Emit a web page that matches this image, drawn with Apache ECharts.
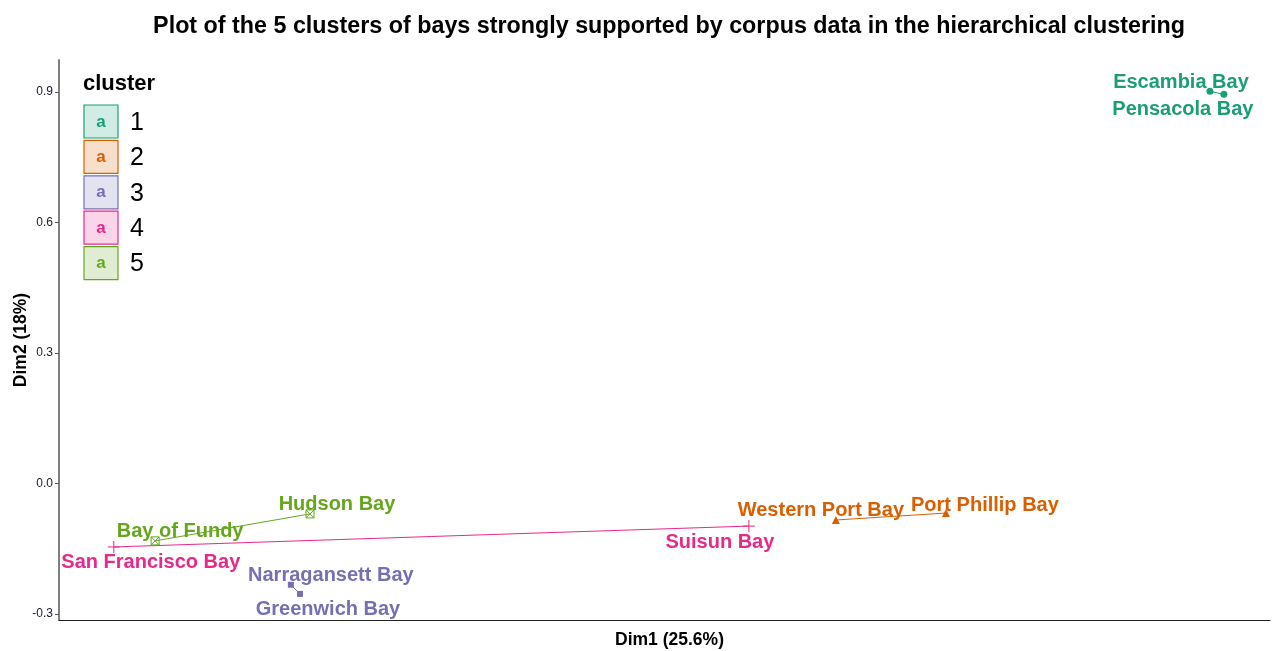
<!DOCTYPE html>
<html>
<head>
<meta charset="utf-8">
<script src="https://cdn.jsdelivr.net/npm/echarts@6/dist/echarts.min.js"></script>
<style>
html, body { margin: 0; padding: 0; background: #fff; }
#chart { width: 1278px; height: 651px; }
</style>
</head>
<body>
<div id="chart"></div>
<script>
// 数据
var clusters = ['1', '2', '3', '4', '5'];
var clusterColors = ['#1B9E77', '#D95F02', '#7570B3', '#E7298A', '#66A61E'];
var bayNames = [
	['Escambia Bay', 'Pensacola Bay'],
	['Western Port Bay', 'Port Phillip Bay'],
	['Narragansett Bay', 'Greenwich Bay'],
	['San Francisco Bay', 'Suisun Bay'],
	['Bay of Fundy', 'Hudson Bay']
];
var dim1 = [
	[2.146, 2.178],
	[1.286, 1.539],
	[0.033, 0.054],
	[-0.374, 1.086],
	[-0.279, 0.077]
];
var dim2 = [
	[0.902, 0.895],
	[-0.084, -0.068],
	[-0.233, -0.254],
	[-0.146, -0.098],
	[-0.132, -0.070]
];
var yTicks = [-0.3, 0.0, 0.3, 0.6, 0.9];

// 标签偏移 (像素)
var labelOffsets = [
	[[-29, -9], [-41, 15]],
	[[-15, -10], [39, -8]],
	[[40, -9], [28, 16]],
	[[37, 16], [-29, 16]],
	[[25, -9], [27, -9]]
];
var symbols = [
	'circle',
	'triangle',
	'rect',
	'path://M0,5 L10,5 M5,0 L5,10',
	'path://M0,0 L10,0 L10,10 L0,10 Z M0,0 L10,10 M10,0 L0,10'
];
var symbolSizes = [7, 8, 6, 12, 8];
var fontFamily = '"Liberation Sans", Arial, sans-serif';

var series = clusters.map(function(c, i) {
	var outline = i >= 3;
	return {
		name: c,
		type: 'line',
		symbol: symbols[i],
		symbolSize: symbolSizes[i],
		showAllSymbol: true,
		lineStyle: { color: clusterColors[i], width: 1 },
		itemStyle: outline
			? { color: 'rgba(0,0,0,0)', borderColor: clusterColors[i], borderWidth: 1 }
			: { color: clusterColors[i] },
		data: bayNames[i].map(function(n, j) {
			return {
				name: n,
				value: [dim1[i][j], dim2[i][j]],
				label: { offset: labelOffsets[i][j] }
			};
		}),
		label: {
			show: true,
			position: 'inside',
			formatter: '{b}',
			color: clusterColors[i],
			fontFamily: fontFamily,
			fontWeight: 'bold',
			fontSize: 20
		},
		emphasis: { disabled: true },
		animation: false
	};
});

// 图例
var legendGraphic = [{
	type: 'text', left: 83, top: 73,
	style: { text: 'cluster', font: 'bold 22px ' + fontFamily, fill: '#000' }
}];
clusters.forEach(function(c, i) {
	var top = 105 + i * 35.4;
	legendGraphic.push({
		type: 'rect', shape: { x: 84, y: top, width: 34, height: 33 },
		style: { fill: echarts.color.modifyAlpha(clusterColors[i], 0.2), stroke: clusterColors[i], lineWidth: 1.2 }
	});
	legendGraphic.push({
		type: 'text', x: 101, y: top + 17,
		style: { text: 'a', font: 'bold 17px ' + fontFamily, fill: clusterColors[i], align: 'center', verticalAlign: 'middle' }
	});
	legendGraphic.push({
		type: 'text', x: 130, y: top + 18,
		style: { text: c, font: '25px ' + fontFamily, fill: '#000', verticalAlign: 'middle' }
	});
});

var myChart = echarts.init(document.getElementById('chart'));
var option = {
	backgroundColor: '#fff',
	title: {
		text: 'Plot of the 5 clusters of bays strongly supported by corpus data in the hierarchical clustering',
		left: 664,
		textAlign: 'center',
		top: 10,
		textStyle: { fontFamily: fontFamily, fontWeight: 'bold', fontSize: 23.3, color: '#000' }
	},
	grid: { left: 59, right: 8, top: 60, bottom: 31, outerBoundsMode: 'none', containLabel: false },
	xAxis: {
		type: 'value',
		min: -0.5,
		max: 2.284,
		name: 'Dim1 (25.6%)',
		nameLocation: 'middle',
		nameGap: 11,
		nameMoveOverlap: false,
		nameTextStyle: { fontFamily: fontFamily, fontWeight: 'bold', fontSize: 17.5, color: '#000', verticalAlign: 'top', padding: [0, 0, 0, 10] },
		axisLine: { onZero: false, lineStyle: { color: '#222', width: 1.2 } },
		axisTick: { show: false },
		axisLabel: { show: false },
		splitLine: { show: false }
	},
	yAxis: {
		type: 'value',
		min: -0.314,
		max: 0.974,
		name: 'Dim2 (18%)',
		nameLocation: 'middle',
		nameGap: 29,
		nameRotate: 90,
		nameMoveOverlap: false,
		nameTextStyle: { fontFamily: fontFamily, fontWeight: 'bold', fontSize: 17.5, color: '#000' },
		axisLine: { show: true, onZero: false, lineStyle: { color: '#7f7f7f', width: 2 } },
		axisTick: { show: true, length: 4, customValues: yTicks, lineStyle: { color: '#555' } },
		axisLabel: {
			customValues: yTicks,
			fontFamily: fontFamily,
			fontSize: 12,
			color: '#1a1a2e',
			margin: 6,
			formatter: function(v) { return v.toFixed(1); }
		},
		splitLine: { show: false }
	},
	graphic: legendGraphic,
	series: series
};
myChart.setOption(option);
</script>
</body>
</html>
